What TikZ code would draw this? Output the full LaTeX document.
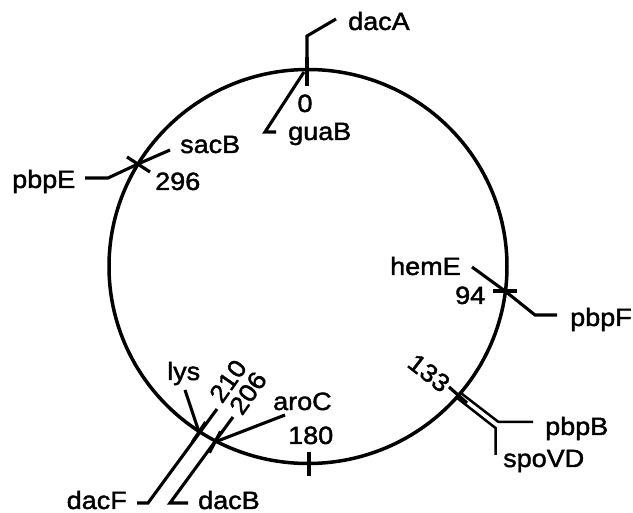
\documentclass[tikz,border=0pt]{standalone}
\usepackage{fontspec}
\setmainfont[FakeStretch=1.08,FakeBold=1.6]{Liberation Sans}
\usetikzlibrary{calc}
\begin{document}
\begin{tikzpicture}[x=1pt,y=-1pt,
  lbl/.style={inner sep=0pt, font=\fontsize{25}{30}\selectfont},
  lead/.style={line width=3.1pt, line join=miter, line cap=butt},
  mapmark/.style={line width=3.2pt},
  ring/.style={line width=3.5pt}]
\useasboundingbox (0,0) rectangle (633,513);

% chromosome
\coordinate (ctr) at (308,266.5);
\draw[ring] (ctr) ellipse [x radius=199, y radius=197];

% positions on the map
\coordinate (m0) at (307,70);
\coordinate (m94) at (505,291);
\coordinate (m133) at (458,395);
\coordinate (m296) at (138,164);
\coordinate (m210) at (199,432);
\coordinate (m206) at (215,442);

% ticks
\coordinate (t0a) at (307,57);   \coordinate (t0b) at (307,86);
\coordinate (t94a) at (493,291); \coordinate (t94b) at (517,291);
\coordinate (t133a) at (449,387); \coordinate (t133b) at (467,403);
\coordinate (t180a) at (309,452); \coordinate (t180b) at (309,476);
\coordinate (t296a) at (127,157); \coordinate (t296b) at (150,172);
\coordinate (t210a) at (192.4,442); \coordinate (t210b) at (205.6,422);
\coordinate (t206a) at (209.4,452.6); \coordinate (t206b) at (220.6,431.4);
\foreach \t in {0,94,133,180,296,210,206}
  \draw[mapmark] (t\t a) -- (t\t b);

% labels
\node[lbl, anchor=base west] (dacA) at (348,30) {dacA};
\node[lbl, anchor=base] (n0) at (305,112) {0};
\node[lbl, anchor=base west] (guaB) at (288,140) {guaB};
\node[lbl, anchor=base west] (sacB) at (180,153) {sacB};
\node[lbl, anchor=base west] (n296) at (155,190) {296};
\node[lbl, anchor=base west] (pbpE) at (12,188) {pbpE};
\node[lbl, anchor=base west] (hemE) at (390,275) {hemE};
\node[lbl, anchor=base west] (n94) at (455,304) {94};
\node[lbl, anchor=base west] (pbpF) at (570,326) {pbpF};
\node[lbl, rotate=-38] (n133) at (429,373) {133};
\node[lbl, anchor=base west] (pbpB) at (545,435) {pbpB};
\node[lbl, anchor=base west] (spoVD) at (503,467) {spoVD};
\node[lbl, anchor=base west] (lys) at (167,380) {lys};
\node[lbl, rotate=55] (n210) at (228,381) {210};
\node[lbl, rotate=55] (n206) at (248,393) {206};
\node[lbl, anchor=base west] (aroC) at (273,410) {aroC};
\node[lbl, anchor=base west] (n180) at (288,444) {180};
\node[lbl, anchor=base east] (dacF) at (127,509) {dacF};
\node[lbl, anchor=base west] (dacB) at (198,509) {dacB};

% leader lines
\coordinate (dacA-k) at (307,36);  \coordinate (dacA-e) at (336,19);
\draw[lead] (m0) -- (dacA-k) -- (dacA-e);

\coordinate (guaB-s) at (304,72); \coordinate (guaB-k) at (265,132); \coordinate (guaB-e) at (276,132);
\draw[lead] (guaB-s) -- (guaB-k) -- (guaB-e);

\coordinate (pbpE-e) at (85,178); \coordinate (pbpE-k) at (108,178); \coordinate (sacB-e) at (170,150);
\draw[lead] (pbpE-e) -- (pbpE-k) -- (m296) -- (sacB-e);

\coordinate (hemE-e) at (472,267); \coordinate (pbpF-k) at (535,315); \coordinate (pbpF-e) at (557,315);
\draw[lead] (hemE-e) -- (m94) -- (pbpF-k) -- (pbpF-e);

\coordinate (pbpB-s) at (459.5,392); \coordinate (pbpB-k) at (498.5,422); \coordinate (pbpB-e) at (533,422);
\coordinate (spoVD-s) at (456.5,397.5); \coordinate (spoVD-k) at (495.5,428); \coordinate (spoVD-e) at (495.5,455);
\draw[lead, line width=2.5pt] (pbpB-s) -- (pbpB-k) -- (pbpB-e);
\draw[lead, line width=2.5pt] (spoVD-s) -- (spoVD-k) -- (spoVD-e);

\coordinate (lys-e) at (185,390);
\draw[lead] (lys-e) -- (m210);

\coordinate (dacF-s) at (217,409); \coordinate (dacF-k) at (148,503); \coordinate (dacF-e) at (137,503);
\draw[lead] (dacF-s) -- (dacF-k) -- (dacF-e);

\coordinate (dacB-s) at (233,417); \coordinate (dacB-k) at (170,503); \coordinate (dacB-e) at (188,503);
\draw[lead] (dacB-s) -- (dacB-k) -- (dacB-e);

\coordinate (aroC-e) at (285,415);
\draw[lead] (aroC-e) -- (m206);
\end{tikzpicture}
\end{document}
